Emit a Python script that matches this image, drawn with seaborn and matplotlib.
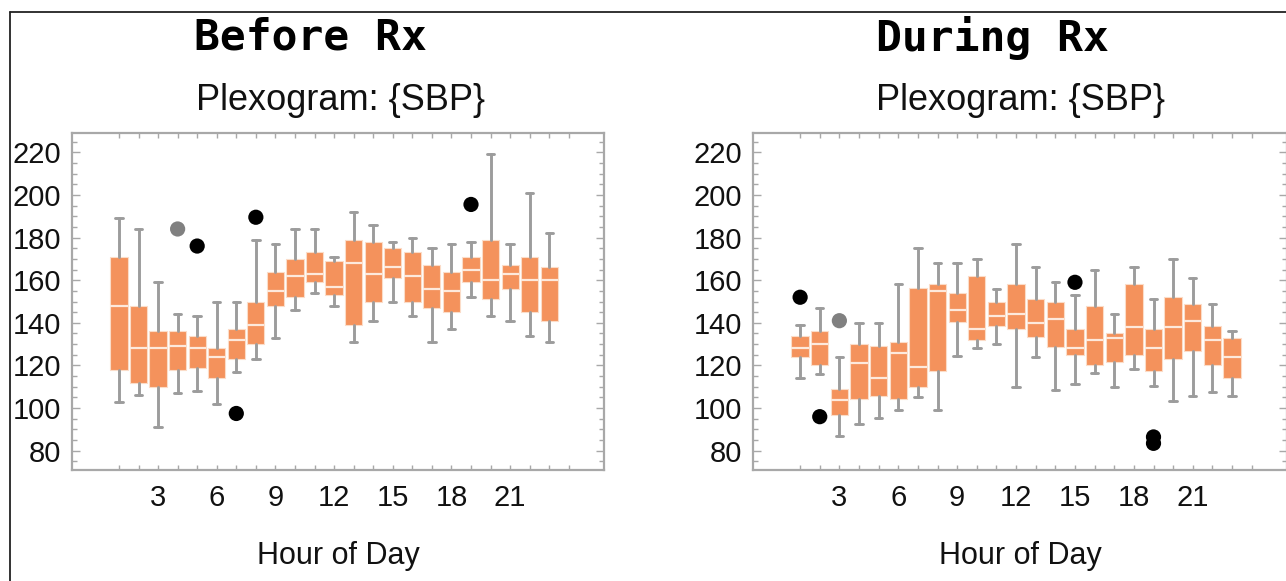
import matplotlib
matplotlib.use("Agg")
import matplotlib.pyplot as plt
from matplotlib.lines import Line2D
from matplotlib.ticker import MultipleLocator, FixedLocator
import seaborn as sns
import pandas as pd

# Hour-of-day positions
hours = list(range(1, 24))

# Systolic BP box statistics per hour, before treatment
before_lo  = [103, 106,  91, 107, 108, 102, 117, 123, 133, 146, 154, 148,
              131, 141, 150, 143, 131, 137, 152, 143, 141, 134, 131]
before_q1  = [118, 112, 110, 118, 119, 114, 123, 130, 148, 152, 159, 153,
              139, 150, 161, 150, 147, 145, 159, 151, 156, 145, 141]
before_med = [148, 128, 128, 129, 128, 124, 132, 139, 155, 162, 163, 157,
              168, 163, 166, 162, 156, 155, 165, 160, 163, 160, 160]
before_q3  = [171, 148, 136, 136, 134, 128, 137, 150, 164, 170, 173, 169,
              179, 178, 175, 173, 167, 164, 171, 179, 167, 171, 166]
before_hi  = [189, 184, 159, 144, 143, 150, 150, 179, 177, 184, 184, 171,
              192, 186, 178, 180, 175, 177, 178, 219, 177, 201, 182]

# Outlying readings before treatment (hour, value, kind)
before_out_hour = [4, 5, 7, 8, 19]
before_out_val  = [184, 176, 97.5, 189.5, 195.5]
before_out_kind = ["near", "far", "far", "far", "far"]

# Systolic BP box statistics per hour, during treatment
during_lo  = [114, 116,  87, 92.5, 95.5,  99, 105,  99, 124.5, 128, 130, 110,
              124, 108.5, 111.5, 116.5, 110, 118.5, 110.5, 103.5, 105.5, 107.5, 105.5]
during_q1  = [124, 120,  97, 104.5, 105.5, 104.5, 110, 117.5, 140.5, 132, 138.5, 137,
              133.5, 128.5, 125, 120, 121.5, 125, 117.5, 123, 127, 120, 114]
during_med = [128, 130, 104, 121, 114, 126, 119.5, 155, 146, 137, 143, 144,
              140, 142, 128, 132, 133, 138, 128, 138, 141, 132, 124]
during_q3  = [134, 136, 109, 130, 129, 131, 156.5, 158, 154, 162, 150, 158,
              151, 150, 137, 148, 135, 158, 137, 152, 149, 138.5, 133]
during_hi  = [139, 147, 124, 140, 140, 158, 175, 168, 168, 170, 156, 177,
              166, 159, 153, 165, 144, 166, 151, 170, 161, 149, 136]

# Outlying readings during treatment (hour, value, kind)
during_out_hour = [1, 2, 3, 15, 19, 19]
during_out_val  = [152, 96, 141, 159, 86.5, 83.5]
during_out_kind = ["far", "far", "near", "far", "far", "far"]

panel_titles = ["Before Rx", "During Rx"]
subtitle = "Plexogram: {SBP}"
x_label = "Hour of Day"
x_tick_labels = [3, 6, 9, 12, 15, 18, 21]
y_tick_labels = list(range(80, 221, 20))

sns.set_theme(style="white")
plt.rcParams["font.family"] = ["Liberation Sans", "DejaVu Sans"]

BOX = "#f4925c"
GREY = "#9c9c9c"
FRAME = "#a8a8a8"

W, H = 1286, 581
fig = plt.figure(figsize=(W / 100, H / 100), dpi=100)
fig.patch.set_facecolor("white")

axes_px = [(72, 532), (753, 534)]
top_px, bot_px = 133, 470


def draw_panel(ax, lo, q1, med, q3, hi, out_h, out_v, out_k):
    stats = [dict(whislo=a, q1=b, med=c, q3=d, whishi=e, fliers=[])
             for a, b, c, d, e in zip(lo, q1, med, q3, hi)]
    ax.bxp(stats, positions=hours, widths=0.88, capwidths=0.38,
           patch_artist=True, showfliers=False,
           boxprops=dict(facecolor=BOX, edgecolor="#fbdcc8", linewidth=0.8),
           medianprops=dict(color="#fde9dc", linewidth=1.6),
           whiskerprops=dict(color=GREY, linewidth=2.1),
           capprops=dict(color=GREY, linewidth=2.1))
    outliers = pd.DataFrame({"hour": out_h, "sbp": out_v, "kind": out_k})
    sns.scatterplot(data=outliers, x="hour", y="sbp", hue="kind",
                    palette={"far": "black", "near": "#808080"},
                    s=120, edgecolor="none", legend=False, ax=ax, zorder=5)

    ax.set_xlim(-1.4, 25.8)
    ax.set_ylim(71, 229)
    ax.xaxis.set_major_locator(FixedLocator(x_tick_labels))
    ax.xaxis.set_minor_locator(FixedLocator(list(range(1, 25))))
    ax.set_xticklabels([str(v) for v in x_tick_labels])
    ax.yaxis.set_major_locator(FixedLocator(y_tick_labels))
    ax.yaxis.set_minor_locator(MultipleLocator(5))
    ax.set_yticklabels([str(v) for v in y_tick_labels])

    ax.tick_params(axis="x", which="both", direction="in", top=True, bottom=True,
                   length=3.6, width=1.0, color=FRAME, labelsize=21, pad=10,
                   labelcolor="#111111")
    ax.tick_params(axis="y", which="major", direction="in", left=True, right=True,
                   length=6, width=1.0, color=FRAME, labelsize=21, pad=8,
                   labelcolor="#111111")
    ax.tick_params(axis="y", which="minor", direction="in", left=True, right=True,
                   length=3.6, width=1.0, color=FRAME)
    for sp in ax.spines.values():
        sp.set_visible(True)
        sp.set_color(FRAME)
        sp.set_linewidth(1.6)
    ax.set_xlabel(x_label, fontsize=22, color="#111111")
    ax.xaxis.set_label_coords(0.5, -0.212)
    ax.set_ylabel("")
    ax.grid(False)


datasets = [
    (before_lo, before_q1, before_med, before_q3, before_hi,
     before_out_hour, before_out_val, before_out_kind),
    (during_lo, during_q1, during_med, during_q3, during_hi,
     during_out_hour, during_out_val, during_out_kind),
]
title_x = [310, 992]
subtitle_x = [341, 1021]

for (left, width), data, title, tx, sx in zip(axes_px, datasets, panel_titles,
                                              title_x, subtitle_x):
    ax = fig.add_axes([left / W, 1 - bot_px / H, width / W, (bot_px - top_px) / H])
    draw_panel(ax, *data)
    fig.text(tx / W, 1 - 38 / H, title, ha="center", va="center",
             family="DejaVu Sans Mono", weight="bold", fontsize=31, color="black")
    fig.text(sx / W, 1 - 100 / H, subtitle, ha="center", va="center",
             fontsize=26, color="#111111")

# Frame lines along the left and top of the figure
fig.add_artist(Line2D([10 / W, 10 / W], [0, 1 - 12 / H], transform=fig.transFigure,
                      color="#222222", linewidth=1.3))
fig.add_artist(Line2D([10 / W, 1], [1 - 12 / H, 1 - 12 / H], transform=fig.transFigure,
                      color="#222222", linewidth=1.3))

fig.savefig("out.png", dpi=100)
